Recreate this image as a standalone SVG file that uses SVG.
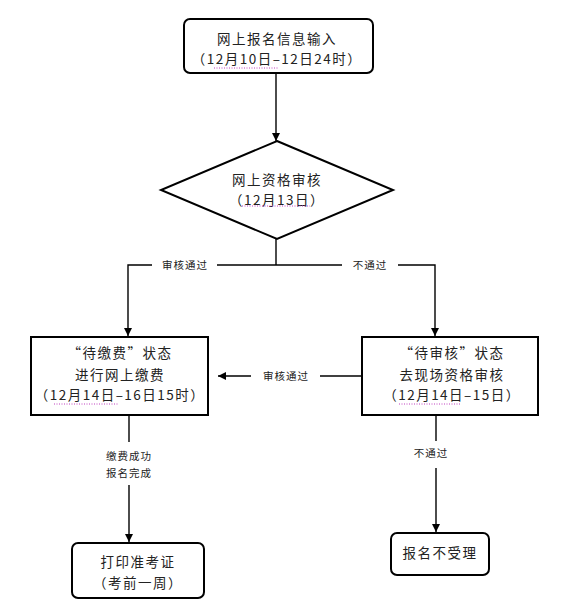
<svg xmlns="http://www.w3.org/2000/svg" width="563" height="614" viewBox="0 0 563 614">
<defs>
<marker id="ah" viewBox="0 0 10 10" refX="10" refY="5" markerWidth="8" markerHeight="8" markerUnits="userSpaceOnUse" orient="auto"><path d="M0,0 L10,5 L0,10 z" fill="#000"/></marker>
<style>
.box{fill:#fff;stroke:#000;stroke-width:2}
.ln{fill:none;stroke:#000;stroke-width:1.4}
.t{font-family:"Noto Sans CJK SC","Liberation Serif",serif;font-size:13.5px;fill:#222;text-anchor:middle;letter-spacing:1.5px}
.s{font-family:"Noto Sans CJK SC","Liberation Serif",serif;font-size:10.5px;fill:#222;text-anchor:middle;letter-spacing:1px}
.u{stroke:#c040c0;stroke-width:1;stroke-dasharray:1,1.5;fill:none}
</style>
</defs>
<rect width="563" height="614" fill="#fff"/>
<g id="connectors">
<path class="ln" d="M276,73 V141" marker-end="url(#ah)"/>
<path class="ln" d="M276,239 V265"/>
<path class="ln" d="M152,265 H128 V336" marker-end="url(#ah)"/>
<path class="ln" d="M217,265 H342"/>
<path class="ln" d="M398,265 H435 V336" marker-end="url(#ah)"/>
<path class="ln" d="M362,376 H320"/>
<path class="ln" d="M251,376 H218" marker-end="url(#ah)"/>
<path class="ln" d="M129,415 V442"/>
<path class="ln" d="M129,485 V542" marker-end="url(#ah)"/>
<path class="ln" d="M436,415 V441"/>
<path class="ln" d="M436,468 V532" marker-end="url(#ah)"/>
<text class="s" x="185" y="269">审核通过</text>
<text class="s" x="370" y="269">不通过</text>
<text class="s" x="286" y="380">审核通过</text>
<text class="s" x="129" y="460">缴费成功</text>
<text class="s" x="129" y="477">报名完成</text>
<text class="s" x="431" y="457">不通过</text>
</g>
<g id="n1">
<rect class="box" x="184" y="19" width="189" height="54" rx="6"/>
<text class="t" x="277" y="44">网上报名信息输入</text>
<text class="t" x="277" y="64">（12月10日–12日24时）</text>
<path class="u" d="M214,68 H278"/>
</g>
<g id="n2">
<polygon class="box" points="277,141 393,190 277,239 161,190"/>
<text class="t" x="277" y="185">网上资格审核</text>
<text class="t" x="277" y="205">（12月13日）</text>
<path class="u" d="M242,206 H310"/>
</g>
<g id="n3">
<rect class="box" x="31" y="337" width="177" height="78"/>
<text class="t" x="120" y="358">“待缴费”状态</text>
<text class="t" x="120" y="380">进行网上缴费</text>
<text class="t" x="120" y="400">（12月14日–16日15时）</text>
<path class="u" d="M54,404 H118"/>
</g>
<g id="n4">
<rect class="box" x="362" y="337" width="176" height="78"/>
<text class="t" x="452" y="358">“待审核”状态</text>
<text class="t" x="452" y="380">去现场资格审核</text>
<text class="t" x="452" y="400">（12月14日–15日）</text>
<path class="u" d="M399,404 H460"/>
</g>
<g id="n5">
<rect class="box" x="72" y="543" width="132" height="55" rx="6"/>
<text class="t" x="138" y="567">打印准考证</text>
<text class="t" x="138" y="588">（考前一周）</text>
</g>
<g id="n6">
<rect class="box" x="391" y="533" width="98" height="42" rx="6"/>
<text class="t" x="440" y="558">报名不受理</text>
</g>
</svg>
